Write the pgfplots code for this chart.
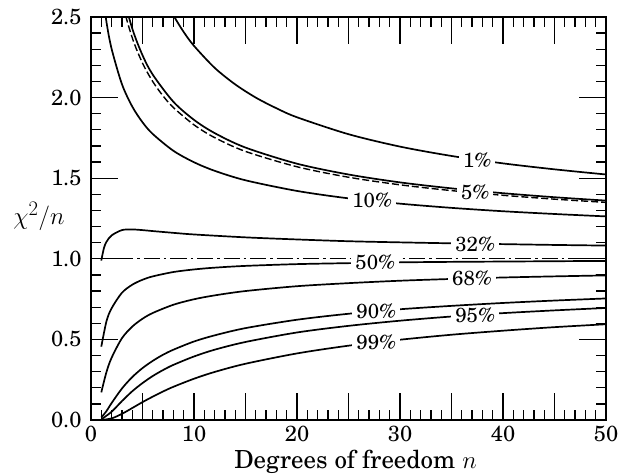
\documentclass[border=0pt]{standalone}
\usepackage{pgfplots}
\usepackage{pgfplotstable}
\pgfplotsset{compat=1.18}
\usepackage{fontspec}
\setmainfont{TeX Gyre Schola}

% 1% curve
\pgfplotstableread{
n v
5 3.017
6 2.802
7 2.639
8 2.511
9 2.407
10 2.321
12 2.185
14 2.082
16 2.000
18 1.934
20 1.878
25 1.773
30 1.696
35 1.638
40 1.592
45 1.555
50 1.523
}\tabOne
% solid curve labelled 5%
\pgfplotstableread{
n v
2 3.090
3 2.677
4 2.430
5 2.263
6 2.142
8 1.974
10 1.862
12 1.780
15 1.690
20 1.590
25 1.523
30 1.474
35 1.437
40 1.407
45 1.382
50 1.361
}\tabFive
% dashed curve
\pgfplotstableread{
n v
2 2.996
3 2.605
4 2.372
5 2.214
6 2.099
7 2.010
8 1.938
10 1.831
12 1.752
15 1.666
20 1.571
25 1.506
30 1.459
35 1.423
40 1.394
45 1.370
50 1.350
}\tabFiveD
% 10%
\pgfplotstableread{
n v
1 2.706
1.5 2.470
2 2.303
3 2.084
4 1.945
5 1.847
6 1.774
8 1.670
10 1.599
12 1.546
15 1.487
20 1.421
25 1.375
30 1.342
35 1.316
40 1.295
45 1.278
50 1.263
}\tabTen
% 32%
\pgfplotstableread{
n v
1 0.989
1.25 1.065
1.5 1.105
2 1.145
3 1.178
4 1.182
5 1.178
6 1.172
8 1.161
10 1.151
15 1.133
20 1.120
25 1.109
30 1.102
35 1.096
40 1.091
45 1.086
50 1.082
}\tabThirtyTwo
% 50%
\pgfplotstableread{
n v
1 0.455
1.5 0.612
2 0.693
3 0.789
4 0.839
5 0.870
6 0.891
8 0.918
10 0.934
12 0.945
15 0.956
20 0.967
25 0.973
30 0.978
35 0.981
40 0.983
45 0.985
50 0.987
}\tabFifty
% 68%
\pgfplotstableread{
n v
1 0.1715
1.5 0.297
2 0.386
3 0.507
4 0.579
5 0.628
6 0.664
8 0.715
10 0.749
12 0.773
15 0.800
20 0.830
25 0.849
30 0.864
35 0.875
40 0.884
45 0.891
50 0.897
}\tabSixtyEight
% 90%
\pgfplotstableread{
n v
1 0.0158
1.5 0.055
2 0.105
3 0.195
4 0.266
5 0.322
6 0.367
7 0.405
8 0.436
10 0.487
12 0.525
15 0.570
20 0.622
25 0.659
30 0.687
35 0.708
40 0.726
45 0.741
50 0.754
}\tabNinety
% 95%
\pgfplotstableread{
n v
1 0.0039
2 0.0513
3 0.117
4 0.178
5 0.229
6 0.273
7 0.310
8 0.342
10 0.394
12 0.436
15 0.484
20 0.543
25 0.584
30 0.616
35 0.642
40 0.663
45 0.680
50 0.695
}\tabNinetyFive
% 99%
\pgfplotstableread{
n v
1 0.0002
2 0.010
3 0.038
4 0.074
5 0.111
6 0.145
7 0.177
8 0.206
10 0.256
12 0.298
15 0.349
20 0.413
25 0.461
30 0.498
35 0.529
40 0.554
45 0.576
50 0.594
}\tabNinetyNine

\begin{document}
\begin{tikzpicture}
\begin{axis}[
  scale only axis,
  width=515bp, height=403bp,
  xmin=0, xmax=50, ymin=0, ymax=2.5,
  axis line style={line width=1.7bp},
  tick align=inside,
  tick style={line width=1.3bp, black},
  major tick length=27bp,
  minor tick length=10bp,
  xtick={0,5,...,50},
  xticklabels={0,,10,,20,,30,,40,,50},
  minor x tick num=4,
  ytick={0,0.5,1.0,1.5,2.0,2.5},
  minor y tick num=4,
  yticklabel style={xshift=-6bp, /pgf/number format/.cd, fixed, fixed zerofill, precision=1},
  xticklabel style={yshift=-3bp},
  /pgf/number format/assume math mode=true,
  ticklabel style={font=\fontsize{22}{24}\selectfont},
  every axis plot/.append style={black, line width=1.7bp},
]
\addplot[dash pattern=on 16bp off 4bp on 2.5bp off 4bp, line width=1.4bp] coordinates {(0,1) (50,1)};
\addplot[smooth] table {\tabOne};
\addplot[smooth] table {\tabFive};
\addplot[smooth, dash pattern=on 7bp off 3bp, line width=1.4bp] table {\tabFiveD};
\addplot[smooth] table {\tabTen};
\addplot[smooth] table {\tabThirtyTwo};
\addplot[smooth] table {\tabFifty};
\addplot[smooth] table {\tabSixtyEight};
\addplot[smooth] table {\tabNinety};
\addplot[smooth] table {\tabNinetyFive};
\addplot[smooth] table {\tabNinetyNine};

\begin{scope}[every node/.style={fill=white, inner xsep=4bp, inner ysep=0.5bp, font=\fontsize{20.5}{22}\selectfont}]
\node at (axis cs:37.5,1.612) {1\%};
\node at (axis cs:37.3,1.415) {5\%};
\node at (axis cs:27.3,1.360) {10\%};
\node at (axis cs:37.3,1.093) {32\%};
\node at (axis cs:27.6,0.976) {50\%};
\node at (axis cs:37.0,0.878) {68\%};
\node at (axis cs:27.7,0.674) {90\%};
\node at (axis cs:37.3,0.652) {95\%};
\node at (axis cs:27.7,0.482) {99\%};
\end{scope}
\end{axis}
\node[font=\fontsize{27.5}{29}\selectfont] at ([xshift=-52bp,yshift=2bp]current axis.west) {$\chi^2/n$};
\node[font=\fontsize{25}{27}\selectfont, anchor=base] at ([xshift=7bp,yshift=-48bp]current axis.south) {Degrees of freedom $n$};
\pgfresetboundingbox
\path ([xshift=-91bp,yshift=-54bp]current axis.south west) rectangle ([xshift=27bp,yshift=17bp]current axis.north east);
\end{tikzpicture}
\end{document}
